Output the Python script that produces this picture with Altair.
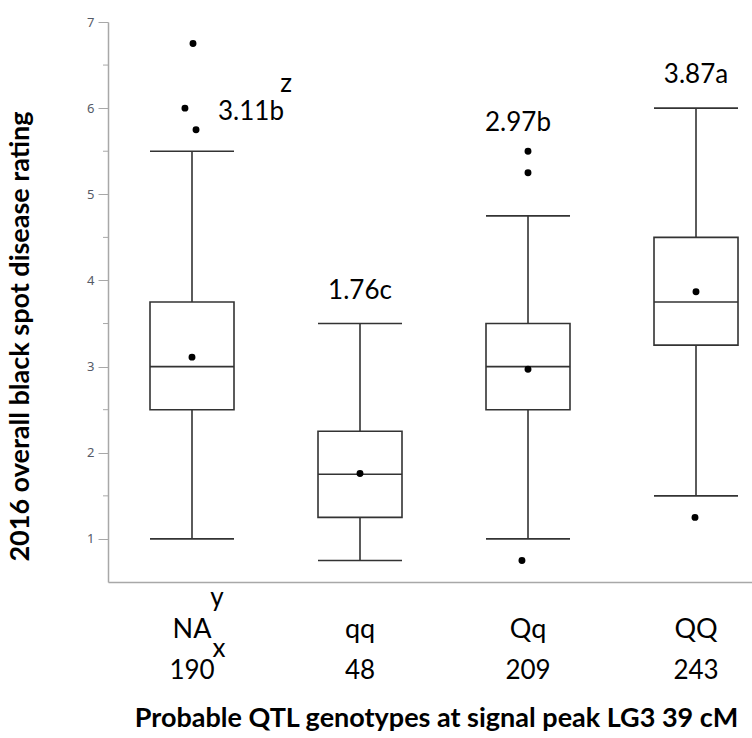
import altair as alt
import pandas as pd

# ---- data ----
categories = ["NA", "qq", "Qq", "QQ"]
counts = ["190", "48", "209", "243"]
whisker_low = [1.0, 0.75, 1.0, 1.5]
q1 = [2.5, 1.25, 2.5, 3.25]
median = [3.0, 1.75, 3.0, 3.75]
q3 = [3.75, 2.25, 3.5, 4.5]
whisker_high = [5.5, 3.5, 4.75, 6.0]
means = [3.11, 1.76, 2.97, 3.87]
mean_labels = ["3.11b", "1.76c", "2.97b", "3.87a"]
label_anchor = [5.96, 3.5, 5.5, 6.0]

outlier_group = ["NA", "NA", "NA", "Qq", "Qq", "Qq", "QQ"]
outlier_value = [6.75, 6.0, 5.75, 5.5, 5.25, 0.75, 1.25]
outlier_jitter = [0.006, -0.042, 0.024, 0.0, 0.0, -0.036, -0.006]

y_ticks = [1, 2, 3, 4, 5, 6, 7]
y_minor = [1.5, 2.5, 3.5, 4.5, 5.5, 6.5]

FONT = "Lato"
LINE = "#333333"
AXIS = "#a8a8a8"

idx = list(range(len(categories)))
box = pd.DataFrame({
    "cat": categories, "idx": idx,
    "left": [i - 0.25 for i in idx], "right": [i + 0.25 for i in idx],
    "lo": whisker_low, "q1": q1, "med": median, "q3": q3, "hi": whisker_high,
    "mean": means, "label": mean_labels, "anchor": label_anchor, "n": counts,
})
out = pd.DataFrame({
    "cat": outlier_group, "val": outlier_value,
    "x": [categories.index(c) + j for c, j in zip(outlier_group, outlier_jitter)],
})
minor = pd.DataFrame({"v": y_minor})

xs = alt.Scale(domain=[-0.5, 3.3333], nice=False, zero=False)
ys = alt.Scale(domain=[0.5, 7], nice=False, zero=False)

X_TITLE = "Probable QTL genotypes at signal peak LG3 39 cM"
Y_TITLE = "2016 overall black spot disease rating"

xaxis = alt.Axis(labels=False, ticks=False, grid=False,
                 domain=True, domainColor=AXIS, domainWidth=1.5,
                 titleFont=FONT, titleFontSize=27, titleFontWeight="bold",
                 titleColor="black", titleX=328, titleY=136,
                 titleAlign="center", titleBaseline="middle")
yaxis = alt.Axis(values=y_ticks, grid=False, tickSize=10,
                 tickColor=AXIS, domainColor=AXIS, domainWidth=1.5, tickWidth=1,
                 labelFont="Noto Sans", labelFontSize=13, labelColor="#555a66",
                 labelPadding=4,
                 titleFont=FONT, titleFontSize=27, titleFontWeight="bold",
                 titleColor="black", titleX=-88, titleY=314,
                 titleAlign="center", titleBaseline="middle")


def X(field):
    return alt.X(field, scale=xs, axis=xaxis, title=X_TITLE)


def Y(field):
    return alt.Y(field, scale=ys, axis=yaxis, title=Y_TITLE)


base = alt.Chart(box)
TS = 26

whisk_lo = base.mark_rule(color=LINE, strokeWidth=1.6).encode(
    x=X("idx:Q"), y=Y("lo:Q"), y2="q1:Q")
whisk_hi = base.mark_rule(color=LINE, strokeWidth=1.6).encode(
    x=X("idx:Q"), y=Y("q3:Q"), y2="hi:Q")
cap_lo = base.mark_rule(color=LINE, strokeWidth=1.6).encode(
    x=X("left:Q"), x2="right:Q", y=Y("lo:Q"))
cap_hi = base.mark_rule(color=LINE, strokeWidth=1.6).encode(
    x=X("left:Q"), x2="right:Q", y=Y("hi:Q"))
boxes = base.mark_rect(fill="white", stroke=LINE, strokeWidth=1.6).encode(
    x=X("left:Q"), x2="right:Q", y=Y("q1:Q"), y2="q3:Q")
med = base.mark_rule(color=LINE, strokeWidth=1.6).encode(
    x=X("left:Q"), x2="right:Q", y=Y("med:Q"))
mean_pts = base.mark_circle(color="black", size=48, opacity=1).encode(
    x=X("idx:Q"), y=Y("mean:Q"))
out_pts = alt.Chart(out).mark_circle(color="black", size=48, opacity=1).encode(
    x=X("x:Q"), y=Y("val:Q"))

# mean letters: NA sits beside its outliers, others above the top point
lab_na = alt.Chart(box[box.cat == "NA"]).mark_text(
    font=FONT, fontSize=TS, color="black", dx=59, baseline="middle").encode(
    x=X("idx:Q"), y=Y("anchor:Q"), text="label:N")
lab_qq = alt.Chart(box[box.cat == "qq"]).mark_text(
    font=FONT, fontSize=TS, color="black", dy=-33, baseline="middle").encode(
    x=X("idx:Q"), y=Y("anchor:Q"), text="label:N")
lab_Qq = alt.Chart(box[box.cat == "Qq"]).mark_text(
    font=FONT, fontSize=TS, color="black", dx=-10, dy=-28, baseline="middle").encode(
    x=X("idx:Q"), y=Y("anchor:Q"), text="label:N")
lab_QQ = alt.Chart(box[box.cat == "QQ"]).mark_text(
    font=FONT, fontSize=TS, color="black", dy=-33, baseline="middle").encode(
    x=X("idx:Q"), y=Y("anchor:Q"), text="label:N")
z_mark = alt.Chart(box[box.cat == "NA"]).mark_text(
    font=FONT, fontSize=TS, color="black", dx=94, dy=-28, baseline="middle").encode(
    x=X("idx:Q"), y=Y("anchor:Q"), text=alt.value("z"))

# category labels, sample sizes and footnote marks under the axis
cat_lab = base.mark_text(font=FONT, fontSize=TS + 1, color="black",
                         baseline="middle").encode(
    x=X("idx:Q"), y=alt.value(608), text="cat:N")
n_lab = base.mark_text(font=FONT, fontSize=TS, color="black",
                       baseline="middle").encode(
    x=X("idx:Q"), y=alt.value(649), text="n:N")
sup_y = alt.Chart(box[box.cat == "NA"]).mark_text(
    font=FONT, fontSize=TS, color="black", dx=25, baseline="middle").encode(
    x=X("idx:Q"), y=alt.value(576), text=alt.value("y"))
sub_x = alt.Chart(box[box.cat == "NA"]).mark_text(
    font=FONT, fontSize=TS, color="black", dx=27, baseline="middle").encode(
    x=X("idx:Q"), y=alt.value(627), text=alt.value("x"))

minor_ticks = alt.Chart(minor).mark_rule(color=AXIS, strokeWidth=1).encode(
    x=alt.value(-5), x2=alt.value(0), y=Y("v:Q"))

chart = alt.layer(
    whisk_lo, whisk_hi, cap_lo, cap_hi, boxes, med, mean_pts, out_pts,
    lab_na, lab_qq, lab_Qq, lab_QQ, z_mark, cat_lab, n_lab, sup_y, sub_x,
    minor_ticks,
).properties(
    width=644, height=560,
    autosize=alt.AutoSizeParams(type="none"),
    padding={"left": 108, "top": 22, "right": 0, "bottom": 156},
    background="white",
).configure_view(stroke=None)

chart.save("out.html", embed_options={"renderer": "svg", "actions": False})
